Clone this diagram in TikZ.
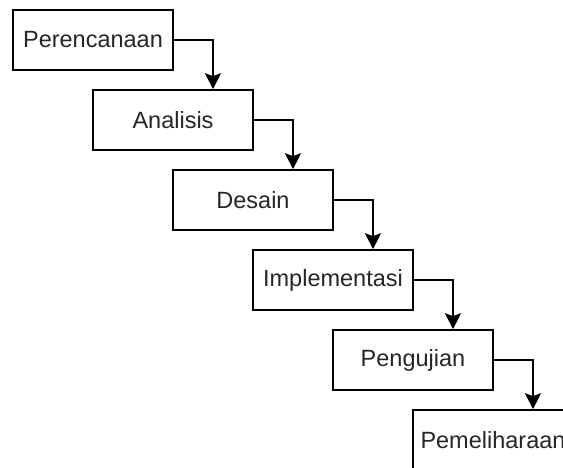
\documentclass[tikz,border=0pt]{standalone}
\usepackage{fontspec}
\setmainfont{Liberation Sans}
\usetikzlibrary{arrows.meta}
\begin{document}
\begin{tikzpicture}[x=1pt,y=1pt,
  stage/.style={draw=black, line width=1.6pt, fill=white, minimum width=160pt, minimum height=60pt,
    inner sep=0pt, text=black!85, font=\fontsize{23.5pt}{26pt}\selectfont},
  flow/.style={draw=black, line width=1.6pt, -{Stealth[width=16pt,length=16pt,inset=3pt]}}]
\useasboundingbox (0,0) rectangle (563,-468);
\clip (0,0) rectangle (563,-468);
\fill[white] (0,0) rectangle (563,-468);
\node[stage] (b1) at (93,-40) {Perencanaan};
\node[stage] (b2) at (173,-120) {Analisis};
\node[stage] (b3) at (253,-200) {Desain};
\node[stage] (b4) at (333,-280) {Implementasi};
\node[stage] (b5) at (413,-360) {Pengujian};
\node[stage] (b6) at (493,-440) {Pemeliharaan};
\draw[flow] (b1.east) -| ([xshift=40pt]b2.north);
\draw[flow] (b2.east) -| ([xshift=40pt]b3.north);
\draw[flow] (b3.east) -| ([xshift=40pt]b4.north);
\draw[flow] (b4.east) -| ([xshift=40pt]b5.north);
\draw[flow] (b5.east) -| ([xshift=40pt]b6.north);
\end{tikzpicture}
\end{document}
